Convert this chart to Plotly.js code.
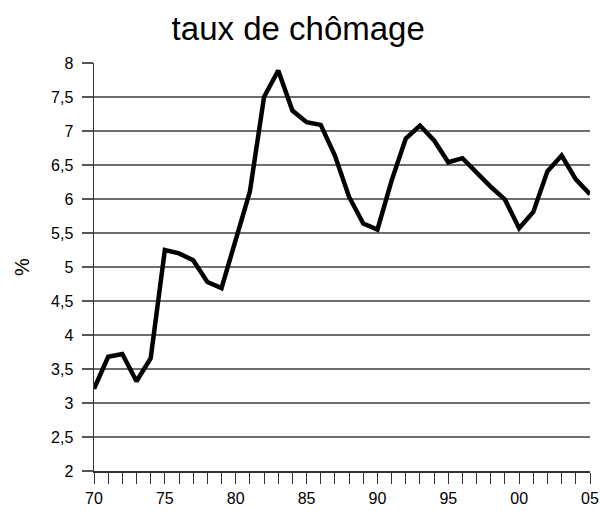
<!DOCTYPE html>
<html>
<head>
<meta charset="utf-8">
<script src="https://cdn.plot.ly/plotly-3.0.1.min.js"></script>
<style>html,body{margin:0;padding:0;background:#fff;}#chart{width:600px;height:511px;}</style>
</head>
<body>
<div id="chart"></div>
<script>
const years = [1970,1971,1972,1973,1974,1975,1976,1977,1978,1979,1980,1981,1982,1983,1984,1985,1986,1987,1988,1989,1990,1991,1992,1993,1994,1995,1996,1997,1998,1999,2000,2001,2002,2003,2004,2005];
const unemployment = [3.21,3.68,3.72,3.32,3.66,5.25,5.2,5.1,4.78,4.69,5.4,6.11,7.5,7.89,7.3,7.13,7.09,6.64,6.03,5.64,5.55,6.27,6.89,7.08,6.86,6.54,6.6,6.38,6.18,5.99,5.57,5.81,6.41,6.64,6.29,6.07];
const tickYears = [1970,1975,1980,1985,1990,1995,2000,2005];
const tickLabels = ['70','75','80','85','90','95','00','05'];

const trace = {
  x: years, y: unemployment, type: 'scatter', mode: 'lines',
  line: {color: '#000000', width: 4.5, shape: 'linear'},
  hoverinfo: 'skip'
};
const layout = {
  width: 600, height: 511,
  paper_bgcolor: '#ffffff', plot_bgcolor: '#ffffff',
  separators: ',.',
  font: {family: 'Liberation Sans, Arial, sans-serif', color: '#000000', size: 16},
  margin: {l: 94, r: 10, t: 63, b: 40, pad: 0},
  showlegend: false,
  title: {text: 'taux de chômage', font: {size: 33, family: 'Liberation Sans, Arial, sans-serif', color: '#000'}, x: 0.497, xref: 'container', xanchor: 'center', y: 0.945, yref: 'container', yanchor: 'middle'},
  xaxis: {
    range: [1970, 2005], tickmode: 'array', tickvals: tickYears, ticktext: tickLabels,
    ticks: 'outside', ticklen: 11, tickwidth: 1, tickcolor: '#333',
    minor: {dtick: 1, tick0: 1970, ticks: 'outside', ticklen: 11, tickwidth: 1, tickcolor: '#333', showgrid: false},
    showgrid: false, zeroline: false, showline: true, linecolor: '#333', linewidth: 1.5,
    ticklabelstandoff: 1, tickfont: {size: 16}
  },
  yaxis: {
    range: [2, 8], dtick: 0.5, tick0: 2,
    ticks: 'outside', ticklen: 11, tickwidth: 1.5, tickcolor: '#555',
    showgrid: true, gridcolor: '#6e6e6e', gridwidth: 1.5, zeroline: false,
    showline: true, linecolor: '#333', linewidth: 1.5,
    ticklabelstandoff: 5, tickfont: {size: 16},
    title: {text: '%', font: {size: 20}, standoff: 16}
  }
};
Plotly.newPlot('chart', [trace], layout, {staticPlot: true, displayModeBar: false});
</script>
</body>
</html>
